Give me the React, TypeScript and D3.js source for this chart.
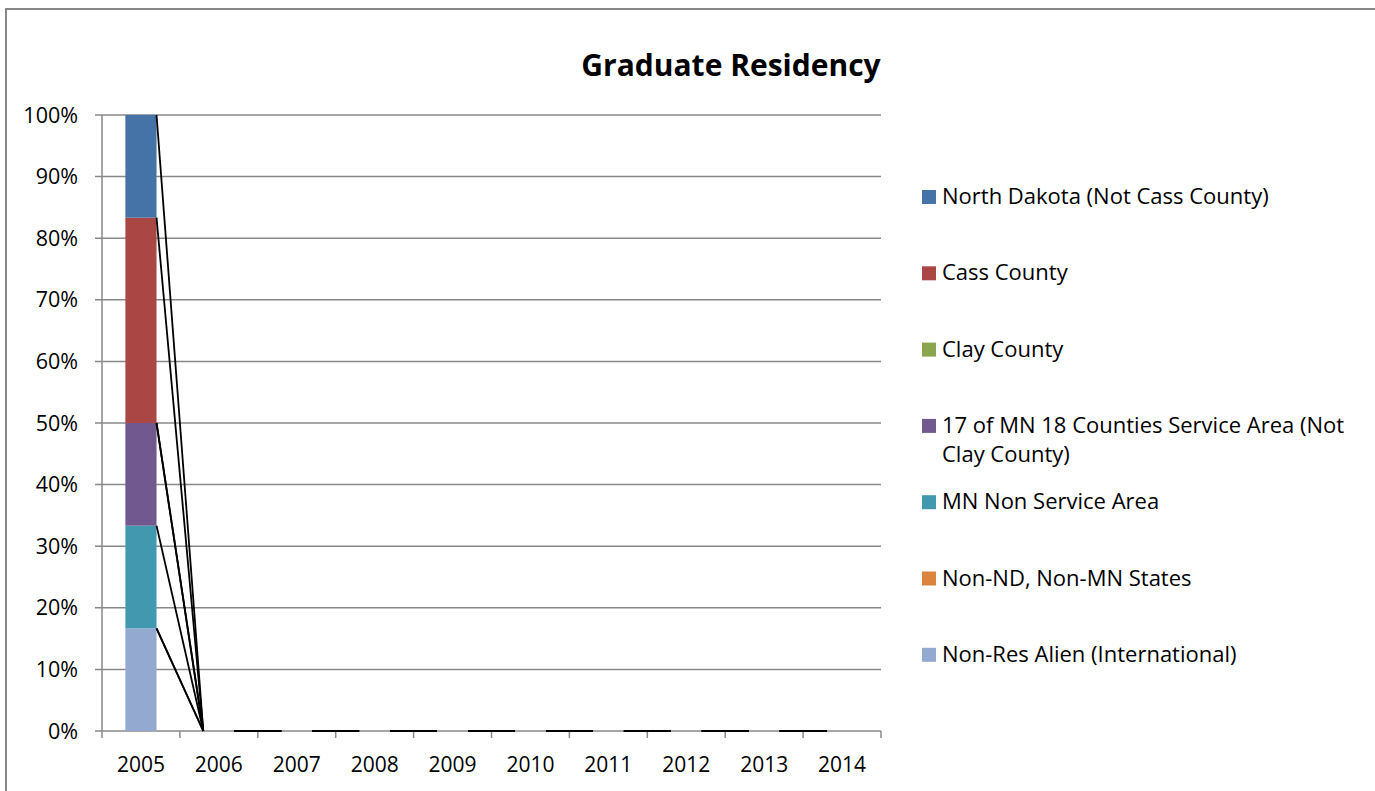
import * as d3 from "d3";

// Graduate Residency – 100% stacked columns with series lines (Excel style)

const YEARS = ["2005", "2006", "2007", "2008", "2009", "2010", "2011", "2012", "2013", "2014"];

// graduate counts per year, bottom of the stack first
const nonResAlien = [1, 0, 0, 0, 0, 0, 0, 0, 0, 0];
const nonNdNonMn = [0, 0, 0, 0, 0, 0, 0, 0, 0, 0];
const mnNonService = [1, 0, 0, 0, 0, 0, 0, 0, 0, 0];
const mnServiceArea = [1, 0, 0, 0, 0, 0, 0, 0, 0, 0];
const clayCounty = [0, 0, 0, 0, 0, 0, 0, 0, 0, 0];
const cassCounty = [2, 0, 0, 0, 0, 0, 0, 0, 0, 0];
const northDakota = [1, 0, 0, 0, 0, 0, 0, 0, 0, 0];

const SERIES = [
  { key: "nonRes", label: "Non-Res Alien (International)", values: nonResAlien, color: "#93A9CF" },
  { key: "nonNd", label: "Non-ND, Non-MN States", values: nonNdNonMn, color: "#DB843D" },
  { key: "mnNon", label: "MN Non Service Area", values: mnNonService, color: "#4198AF" },
  { key: "mn17", label: "17 of MN 18 Counties Service Area (Not|Clay County)", values: mnServiceArea, color: "#71588F" },
  { key: "clay", label: "Clay County", values: clayCounty, color: "#89A54E" },
  { key: "cass", label: "Cass County", values: cassCounty, color: "#AA4643" },
  { key: "nd", label: "North Dakota (Not Cass County)", values: northDakota, color: "#4572A7" },
];

const Y_TICKS = [0, 0.1, 0.2, 0.3, 0.4, 0.5, 0.6, 0.7, 0.8, 0.9, 1];

const W = 1375;
const H = 791;
const PLOT = { left: 102, right: 881, top: 115, bottom: 731 };
const FONT = "'Open Sans', 'Noto Sans', sans-serif";

export default function App() {
  const rows = YEARS.map((year, i) => {
    const row: Record<string, any> = { year };
    SERIES.forEach((s) => (row[s.key] = s.values[i]));
    return row;
  });

  const stacked = d3
    .stack<Record<string, any>>()
    .keys(SERIES.map((s) => s.key))
    .offset(d3.stackOffsetExpand)(rows);

  const x = d3.scaleBand().domain(YEARS).range([PLOT.left, PLOT.right]).paddingInner(0.6).paddingOuter(0.3);
  const y = d3.scaleLinear().domain([0, 1]).range([PLOT.bottom, PLOT.top]);
  const step = x.step();
  const bw = x.bandwidth();

  const legendItems = [...SERIES].reverse();

  return (
    <svg
      width={W}
      height={H}
      style={{ position: "fixed", left: 0, top: 0, background: "#fff" }}
      fontFamily={FONT}
    >
      <rect x={6} y={9} width={W + 10} height={H + 10} fill="#fff" stroke="#888" strokeWidth={2} />

      <text x={731} y={76} textAnchor="middle" fontSize={30} fontWeight="bold" fill="#000">
        Graduate Residency
      </text>

      {/* gridlines */}
      {Y_TICKS.map((t) => (
        <g key={t}>
          <line x1={PLOT.left - 7} x2={PLOT.right} y1={y(t)} y2={y(t)} stroke="#888" strokeWidth={1.5} />
          <text x={78} y={y(t) + 7.5} textAnchor="end" fontSize={21.5} fill="#000">
            {d3.format(".0%")(t)}
          </text>
        </g>
      ))}

      {/* y axis */}
      <line x1={PLOT.left} x2={PLOT.left} y1={PLOT.top} y2={PLOT.bottom} stroke="#888" strokeWidth={1.5} />

      {/* x axis ticks */}
      {d3.range(YEARS.length + 1).map((i) => (
        <line
          key={i}
          x1={PLOT.left + i * step}
          x2={PLOT.left + i * step}
          y1={PLOT.bottom}
          y2={PLOT.bottom + 7}
          stroke="#888"
          strokeWidth={1.5}
        />
      ))}
      {YEARS.map((yr) => (
        <text key={yr} x={(x(yr) ?? 0) + bw / 2} y={772} textAnchor="middle" fontSize={21} fill="#000">
          {yr}
        </text>
      ))}

      {/* bars */}
      {stacked.map((layer, si) => (
        <g key={layer.key} fill={SERIES[si].color}>
          {layer.map((d, i) => (
            <rect
              key={i}
              x={x(YEARS[i])}
              y={y(d[1])}
              width={bw}
              height={Math.max(0, y(d[0]) - y(d[1]))}
            />
          ))}
        </g>
      ))}

      {/* series lines */}
      {stacked.map((layer) =>
        layer.slice(0, -1).map((d, i) => (
          <line
            key={`${layer.key}-${i}`}
            x1={(x(YEARS[i]) ?? 0) + bw}
            y1={y(d[1])}
            x2={x(YEARS[i + 1])}
            y2={y(layer[i + 1][1])}
            stroke="#000"
            strokeWidth={1.8}
          />
        ))
      )}

      {/* legend */}
      {legendItems.map((s, i) => {
        const by = 204 + i * 76.3;
        const lines = s.label.split("|");
        return (
          <g key={s.key}>
            <rect x={922} y={by - 14} width={14} height={14} fill={s.color} />
            {lines.map((ln, j) => (
              <text key={j} x={942} y={by + j * 29} fontSize={22} fill="#000">
                {ln}
              </text>
            ))}
          </g>
        );
      })}
    </svg>
  );
}
